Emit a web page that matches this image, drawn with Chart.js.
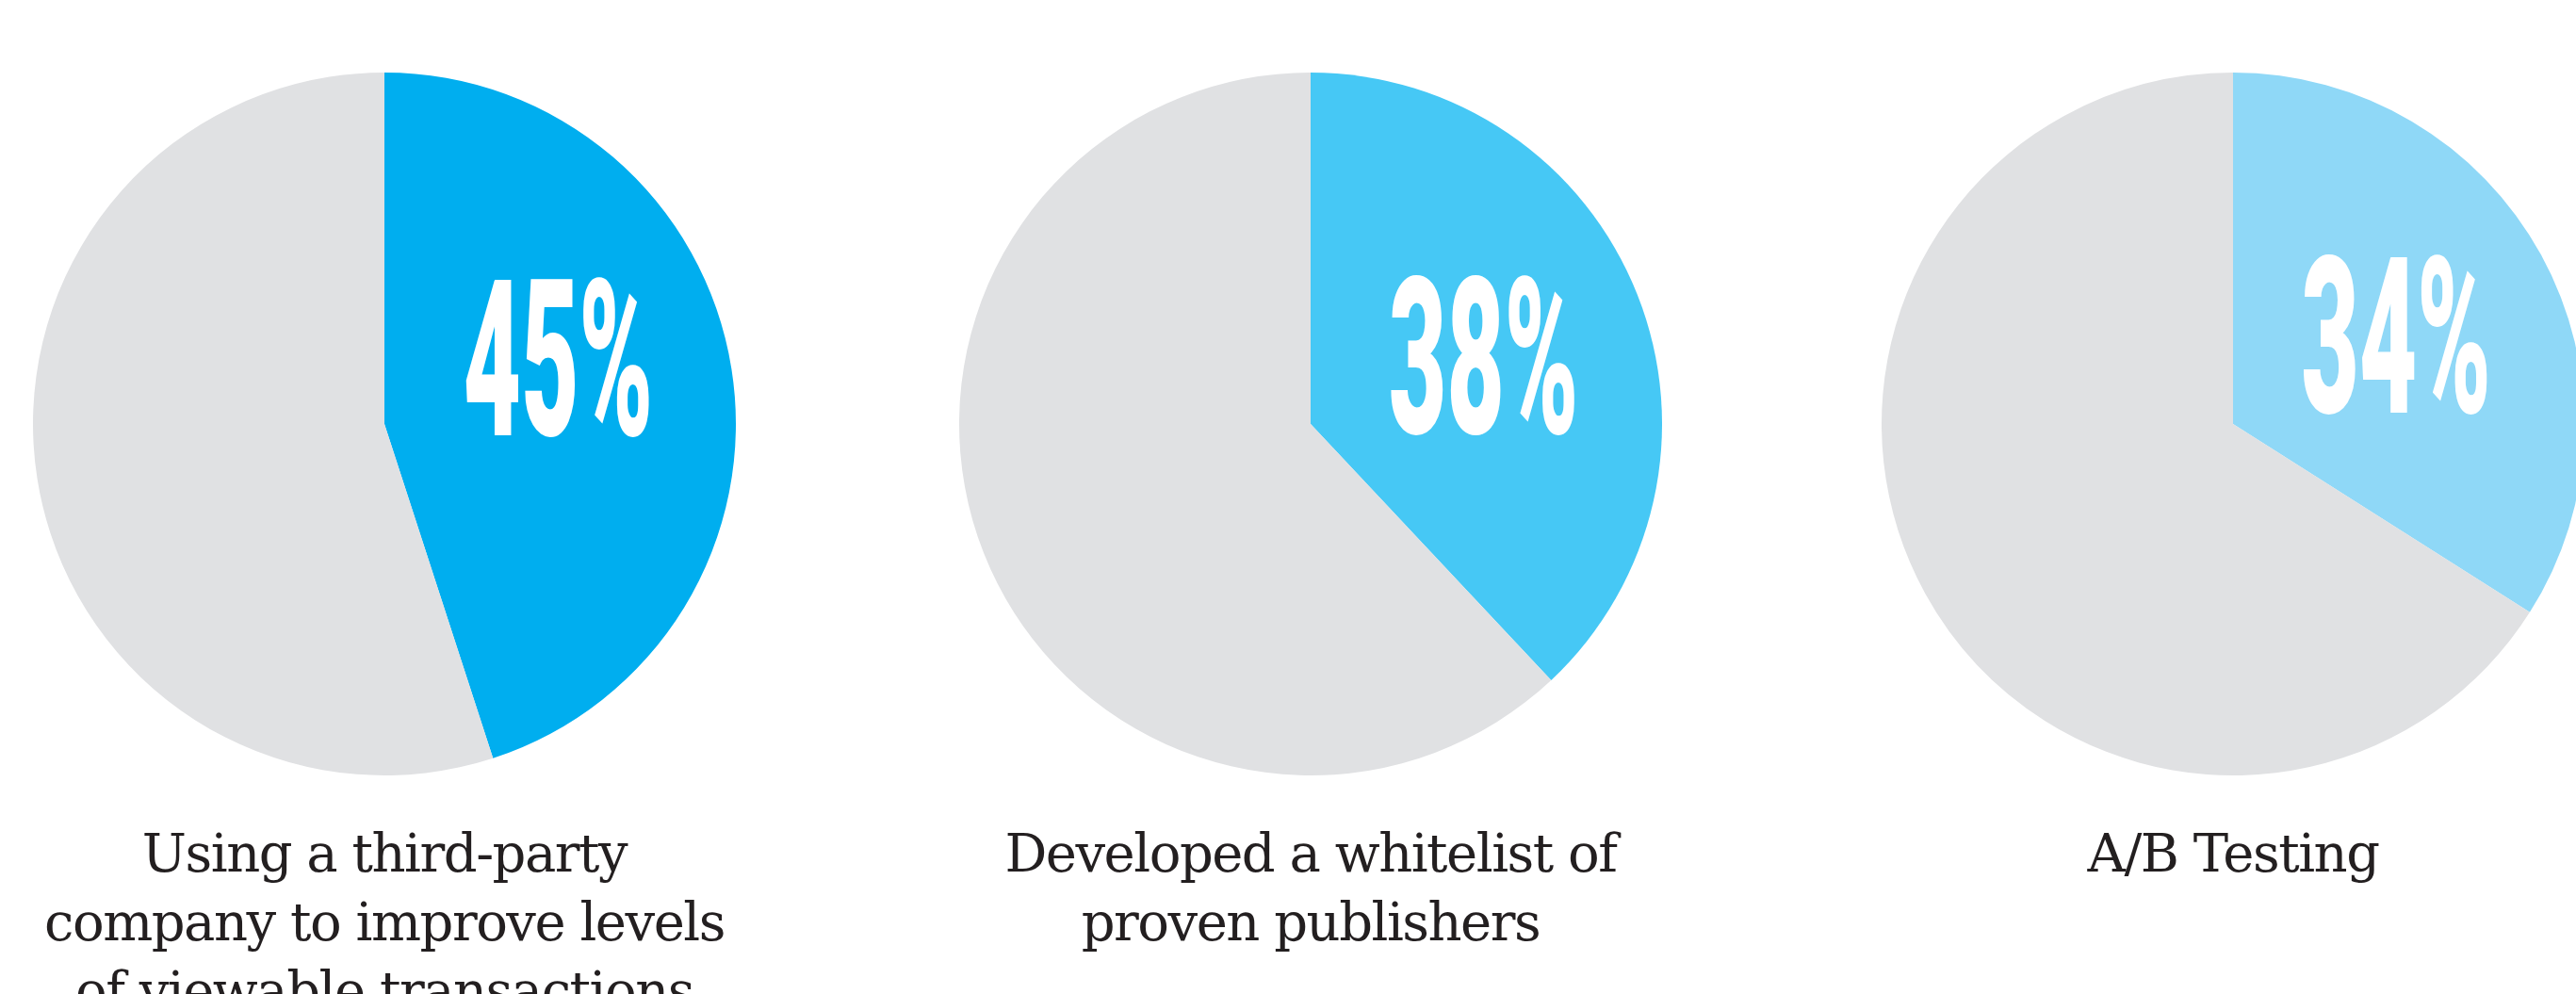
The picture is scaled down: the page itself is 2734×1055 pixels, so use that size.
<!DOCTYPE html>
<html>
<head>
  <meta charset="UTF-8">
  <title>Viewability tactics</title>
  <script src="https://cdn.jsdelivr.net/npm/chart.js"></script>
  <style>
    html, body {
      margin: 0;
      padding: 0;
      background: #fff;
      overflow: hidden;
      width: 2734px;
      height: 1055px;
    }
    .pie {
      position: absolute;
      top: 77px;
    }
    .caption {
      position: absolute;
      top: 869px;
      width: 900px;
      text-align: center;
      font-family: 'DejaVu Serif', 'Liberation Serif', serif;
      font-size: 56px;
      line-height: 73px;
      color: #231f20;
      letter-spacing: -1.5px;
    }
  </style>
</head>
<body>
  <script>
    // chart values
    const captionLines = [
      ['Using a third-party', 'company to improve levels', 'of viewable transactions'],
      ['Developed a whitelist of', 'proven publishers'],
      ['A/B Testing']
    ];
    const percentages = [45, 38, 34];
    const sliceColors = ['#00aeef', '#46c8f5', '#8fd8f7'];
    const restColor = '#e0e1e3';

    const pieCenters = [408, 1391, 2370];
    const radius = 373;

    // big white percentage drawn inside the coloured slice
    const bigLabel = {
      id: 'bigLabel',
      afterDatasetsDraw(chart) {
        const arc = chart.getDatasetMeta(0).data[0];
        const ctx = chart.ctx;
        const mid = (arc.startAngle + arc.endAngle) / 2;
        const a = Math.min(mid, -21 * Math.PI / 180);
        const d = arc.outerRadius * 0.53;
        const x = arc.x + d * Math.cos(a);
        const y = arc.y + d * Math.sin(a);
        const text = chart.data.datasets[0].data[0] + '%';
        ctx.save();
        ctx.font = '900 232px Roboto, "DejaVu Sans", sans-serif';
        const w = ctx.measureText(text).width;
        const sx = (arc.outerRadius * 0.54) / w;
        ctx.translate(x, y + 83);
        ctx.scale(sx, 1);
        ctx.fillStyle = '#fff';
        ctx.textAlign = 'center';
        ctx.textBaseline = 'alphabetic';
        ctx.fillText(text, 0, 0);
        ctx.restore();
      }
    };

    percentages.forEach((p, i) => {
      const canvas = document.createElement('canvas');
      canvas.className = 'pie';
      canvas.width = radius * 2;
      canvas.height = radius * 2;
      canvas.style.left = (pieCenters[i] - radius) + 'px';
      document.body.appendChild(canvas);

      const cap = document.createElement('div');
      cap.className = 'caption';
      cap.style.left = (pieCenters[i] - 450) + 'px';
      cap.innerHTML = captionLines[i].join('<br>');
      document.body.appendChild(cap);

      new Chart(canvas.getContext('2d'), {
        type: 'pie',
        data: {
          labels: [captionLines[i].join(' '), 'Other'],
          datasets: [{
            data: [p, 100 - p],
            backgroundColor: [sliceColors[i], restColor],
            borderWidth: 0
          }]
        },
        options: {
          responsive: false,
          animation: false,
          layout: { padding: 0 },
          plugins: {
            legend: { display: false },
            tooltip: { enabled: false }
          }
        },
        plugins: [bigLabel]
      });
    });
  </script>
</body>
</html>
